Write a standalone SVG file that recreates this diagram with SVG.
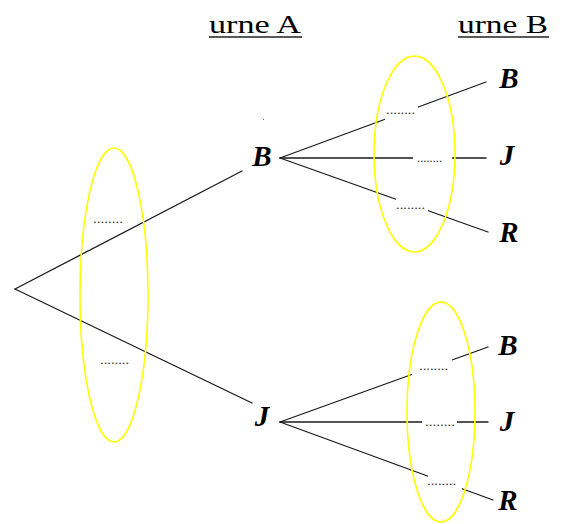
<svg xmlns="http://www.w3.org/2000/svg" width="565" height="524" viewBox="0 0 565 524">
<style>
.edge{stroke:#1a1a1a;stroke-width:1.3;fill:none;stroke-linecap:round}
.oval{fill:none;stroke:#ffff00;stroke-width:1.6}
.lbl{font-family:"Liberation Serif","Times New Roman",serif;font-weight:bold;font-style:italic;font-size:29px;fill:#000;text-anchor:middle}
.head{font-family:"Liberation Serif","Times New Roman",serif;font-size:26px;fill:#000}
.dots{font-family:"Liberation Serif","Times New Roman",serif;font-size:12px;fill:#333}
.bg{fill:#fff}
</style>
<rect width="565" height="524" fill="#fff"/>
<g id="headers">
<text class="head" x="209" y="33" textLength="92" lengthAdjust="spacingAndGlyphs">urne A</text>
<line x1="209" y1="37" x2="302" y2="37" stroke="#222" stroke-width="1.5"/>
<text class="head" x="458" y="33" textLength="90" lengthAdjust="spacingAndGlyphs">urne B</text>
<line x1="458" y1="37" x2="549" y2="37" stroke="#222" stroke-width="1.5"/>
</g>
<g id="connectors">
<line class="edge" x1="15" y1="289" x2="242" y2="171"/>
<line class="edge" x1="15" y1="289" x2="252" y2="403"/>
<line class="edge" x1="280" y1="158" x2="486" y2="82"/>
<line class="edge" x1="280" y1="158" x2="486" y2="158"/>
<line class="edge" x1="280" y1="158" x2="488" y2="232"/>
<line class="edge" x1="280" y1="422" x2="488" y2="347"/>
<line class="edge" x1="280" y1="422" x2="488" y2="422"/>
<line class="edge" x1="280" y1="422" x2="493" y2="500"/>
</g>
<g id="edge-labels">
<text class="dots" x="93" y="223" textLength="30" lengthAdjust="spacingAndGlyphs">........</text>
<text class="dots" x="100" y="364" textLength="29" lengthAdjust="spacingAndGlyphs">........</text>
<rect class="bg" x="385" y="105" width="33" height="16"/>
<text class="dots" x="386" y="114" textLength="29" lengthAdjust="spacingAndGlyphs">........</text>
<rect class="bg" x="413" y="152" width="39" height="12"/>
<text class="dots" x="417" y="162" textLength="25" lengthAdjust="spacingAndGlyphs">........</text>
<rect class="bg" x="396" y="198" width="32" height="15"/>
<text class="dots" x="396" y="209" textLength="29" lengthAdjust="spacingAndGlyphs">........</text>
<rect class="bg" x="412" y="358" width="40" height="18"/>
<text class="dots" x="419" y="370" textLength="29" lengthAdjust="spacingAndGlyphs">........</text>
<rect class="bg" x="422" y="416" width="35" height="12"/>
<text class="dots" x="425" y="426" textLength="30" lengthAdjust="spacingAndGlyphs">........</text>
<rect class="bg" x="428" y="474" width="34" height="17"/>
<text class="dots" x="427" y="485" textLength="29" lengthAdjust="spacingAndGlyphs">........</text>
<rect x="263" y="119" width="1" height="1" fill="#666"/>
</g>
<g id="oval-A"><ellipse class="oval" cx="114" cy="295" rx="34" ry="147"/></g>
<g id="oval-B1"><ellipse class="oval" cx="414.5" cy="154" rx="40.5" ry="98"/></g>
<g id="oval-B2"><ellipse class="oval" cx="441" cy="412" rx="34" ry="110"/></g>
<g id="node-B"><text class="lbl" x="262" y="166">B</text></g>
<g id="node-J"><text class="lbl" x="262" y="426">J</text></g>
<g id="node-BB"><text class="lbl" x="509" y="88">B</text></g>
<g id="node-BJ"><text class="lbl" x="507" y="165">J</text></g>
<g id="node-BR"><text class="lbl" x="509" y="242">R</text></g>
<g id="node-JB"><text class="lbl" x="508" y="355">B</text></g>
<g id="node-JJ"><text class="lbl" x="507" y="431">J</text></g>
<g id="node-JR"><text class="lbl" x="508" y="510">R</text></g>
</svg>
